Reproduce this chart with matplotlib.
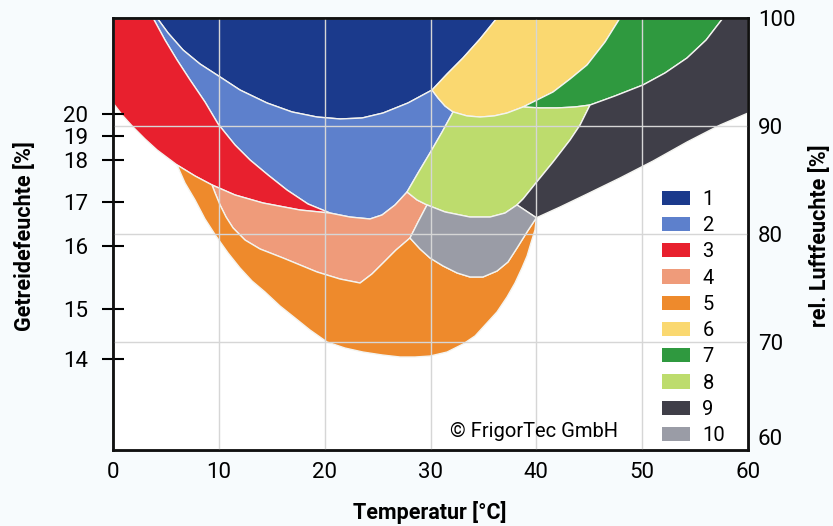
import matplotlib
matplotlib.use('Agg')
import matplotlib.pyplot as plt
from matplotlib.patches import Patch
import numpy as np

plt.rcParams['font.family'] = ['Roboto', 'DejaVu Sans']

# boundary curves, temperature [°C] vs rel. humidity [%]
red_bottom_t = [0.0, 0.94, 1.89, 3.02, 4.16, 6.05, 7.75, 9.35, 11.53, 14.17, 17.67, 20.5]
red_bottom_rh = [92.13, 90.93, 89.91, 88.8, 87.78, 86.39, 85.37, 84.54, 83.61, 82.87, 82.22, 81.94]
red_blue_t = [3.78, 4.91, 6.05, 7.28, 8.69, 9.92, 11.53, 12.95, 14.65, 16.44, 18.42, 20.5]
red_blue_rh = [100, 97.96, 96.11, 94.26, 92.22, 90.19, 88.24, 86.85, 85.46, 84.07, 82.78, 81.94]
blue_bottom_t = [20.5, 22.39, 24.28, 25.42, 26.65, 27.78]
blue_bottom_rh = [81.94, 81.57, 81.39, 81.76, 82.69, 83.89]
lg_left_t = [27.78, 28.82, 29.95, 31.09, 32.13]
lg_left_rh = [83.89, 85.65, 87.5, 89.44, 91.3]
db_bottom_t = [4.16, 5.2, 6.61, 8.22, 9.83, 12.0, 14.55, 16.91, 19.28, 21.45, 23.53, 25.51, 27.87, 30.14]
db_bottom_rh = [100, 98.61, 97.04, 95.74, 94.72, 93.33, 92.13, 91.3, 90.83, 90.65, 90.74, 91.2, 92.13, 93.33]
db_yellow_t = [30.14, 31.56, 33.07, 34.68, 36.28]
db_yellow_rh = [93.33, 94.81, 96.3, 98.06, 100]
blue_yellow_t = [30.14, 30.71, 31.37, 32.13]
blue_yellow_rh = [93.33, 92.59, 91.85, 91.3]
yellow_bottom_t = [32.13, 33.45, 34.68, 36.0, 37.23, 38.74]
yellow_bottom_rh = [91.3, 90.93, 90.83, 90.93, 91.2, 91.76]
yellow_green_t = [38.74, 41.58, 43.18, 44.79, 46.49, 47.91]
yellow_green_rh = [91.76, 93.15, 94.35, 95.65, 97.78, 100]
green_bottom_t = [38.74, 40.35, 41.95, 43.65, 45.07]
green_bottom_rh = [91.76, 91.67, 91.67, 91.76, 91.94]
green_dark_t = [45.07, 47.43, 50.08, 52.16, 54.24, 56.04, 57.64]
green_dark_rh = [91.94, 92.78, 93.8, 94.91, 96.3, 97.96, 100]
dark_bottom_t = [60, 57.36, 54.24, 51.03, 47.91, 44.79, 42.24, 40.0]
dark_bottom_rh = [91.2, 90.09, 88.52, 86.76, 85.19, 83.7, 82.5, 81.5]
lg_dark_t = [38.17, 38.74, 39.88, 41.58, 43.18, 44.13, 45.07]
lg_dark_rh = [82.69, 83.24, 84.63, 86.67, 88.7, 90.09, 91.94]
lg_bottom_t = [27.78, 28.73, 29.67, 31.37, 33.73, 35.62, 37.04, 38.17]
lg_bottom_rh = [83.89, 83.15, 82.69, 82.04, 81.57, 81.57, 81.94, 82.69]
salmon_gray_t = [29.67, 28.82, 28.06]
salmon_gray_rh = [82.69, 81.11, 79.63]
gray_bottom_t = [28.06, 29.01, 29.95, 31.18, 32.51, 33.73, 34.96, 36.28, 37.32, 38.17, 39.12, 40.0]
gray_bottom_rh = [79.63, 78.61, 77.78, 77.04, 76.39, 76.02, 76.02, 76.57, 77.41, 78.7, 80.19, 81.5]
salmon_bottom_t = [9.35, 9.64, 10.11, 10.68, 11.34, 12.47, 13.89, 16.06, 17.67, 19.28, 21.45, 23.34, 24.47, 25.51, 26.74, 28.06]
salmon_bottom_rh = [84.54, 83.8, 82.69, 81.57, 80.56, 79.44, 78.61, 77.78, 77.13, 76.48, 75.83, 75.46, 76.3, 77.31, 78.52, 79.63]
orange_outer_t = [6.05, 6.8, 7.75, 8.69, 9.73, 10.87, 12.0, 13.13, 14.36, 15.78, 17.2, 18.61, 20.22, 21.92,
                  23.62, 25.42, 27.12, 28.54, 29.95, 31.56, 33.07, 34.21, 35.15, 36.28, 37.23, 37.98, 38.64,
                  39.12, 39.49, 39.87, 40.0]
orange_outer_rh = [86.39, 84.72, 83.15, 81.39, 79.81, 78.24, 76.85, 75.65, 74.63, 73.33, 72.22, 71.11, 70.0, 69.44,
                   69.07, 68.8, 68.61, 68.61, 68.7, 69.07, 69.81, 70.56, 71.57, 72.78, 74.17, 75.46, 76.85,
                   77.96, 79.17, 80.37, 81.5]

# grain moisture scale on the left, placed at the matching rel. humidity
grain_rh = [91.1, 89.05, 86.85, 82.95, 78.9, 73.05, 68.45]
grain_labels = ['20', '19', '18', '17', '16', '15', '14']
rh_ticks = [60, 70, 80, 90, 100]
t_ticks = [0, 10, 20, 30, 40, 50, 60]

zone_labels = ['1', '2', '3', '4', '5', '6', '7', '8', '9', '10']
zone_colors = ['#1b3a8c', '#5d80cc', '#e8202e', '#ef9b7a', '#ee8a2c',
               '#fad870', '#2f993f', '#bddc6d', '#3f3e48', '#9a9ca6']


def c(t, rh):
    return np.array(t, float), np.array(rh, float)


def rev(p):
    return p[0][::-1], p[1][::-1]


def sl(p, a, b=None):
    return p[0][a:b], p[1][a:b]


def chain(*parts):
    return np.concatenate([p[0] for p in parts]), np.concatenate([p[1] for p in parts])


red_bottom = c(red_bottom_t, red_bottom_rh)
red_blue = c(red_blue_t, red_blue_rh)
blue_bottom = c(blue_bottom_t, blue_bottom_rh)
lg_left = c(lg_left_t, lg_left_rh)
db_bottom = c(db_bottom_t, db_bottom_rh)
db_yellow = c(db_yellow_t, db_yellow_rh)
blue_yellow = c(blue_yellow_t, blue_yellow_rh)
yellow_bottom = c(yellow_bottom_t, yellow_bottom_rh)
yellow_green = c(yellow_green_t, yellow_green_rh)
green_bottom = c(green_bottom_t, green_bottom_rh)
green_dark = c(green_dark_t, green_dark_rh)
dark_bottom = c(dark_bottom_t, dark_bottom_rh)
lg_dark = c(lg_dark_t, lg_dark_rh)
lg_bottom = c(lg_bottom_t, lg_bottom_rh)
salmon_gray = c(salmon_gray_t, salmon_gray_rh)
gray_bottom = c(gray_bottom_t, gray_bottom_rh)
salmon_bottom = c(salmon_bottom_t, salmon_bottom_rh)
orange_outer = c(orange_outer_t, orange_outer_rh)
top_left = c([0], [100])
top_right = c([60], [100])

# red_bottom: index 5 = tip of zone 5, index 7 = tip of zone 4
zones = [
    chain(db_bottom, db_yellow),
    chain(red_blue, blue_bottom, lg_left, rev(blue_yellow), rev(db_bottom)),
    chain(top_left, red_blue, rev(red_bottom)),
    chain(sl(red_bottom, 7), blue_bottom, sl(lg_bottom, 0, 3), salmon_gray, rev(salmon_bottom)),
    chain(sl(red_bottom, 5, 8), salmon_bottom, gray_bottom, rev(orange_outer)),
    chain(db_yellow, rev(yellow_green), rev(yellow_bottom), rev(blue_yellow)),
    chain(yellow_green, rev(green_dark), rev(green_bottom)),
    chain(lg_left, yellow_bottom, green_bottom, rev(lg_dark), rev(lg_bottom)),
    chain(green_dark, top_right, dark_bottom, lg_dark),
    chain(sl(lg_bottom, 2), rev(gray_bottom), rev(salmon_gray)),
]

fig = plt.figure(figsize=(8.33, 5.26), dpi=100, facecolor='#f7fbfd')
ax = fig.add_axes([0.1357, 0.1445, 0.7623, 0.8213])
ax.set_facecolor('white')
ax.set_xlim(0, 60)
ax.set_ylim(60, 100)

for (t, rh), col in zip(zones, zone_colors):
    ax.fill(t, rh, facecolor=col, edgecolor='#f4f4f0', linewidth=1.0, zorder=1)

ax.set_axisbelow(False)
ax.grid(axis='x', color='#d6d6d6', linewidth=1.0)
ax.set_xticks(t_ticks)
ax.tick_params(axis='x', length=0, pad=9, labelsize=16)
ax.set_yticks(grain_rh)
ax.set_yticklabels(grain_labels)
ax.tick_params(axis='y', direction='inout', length=16, width=1.5, labelsize=16, pad=10)

ax2 = ax.twinx()
ax2.set_ylim(60, 100)
ax2.set_yticks(rh_ticks)
ax2.tick_params(axis='y', length=0, pad=7, labelsize=16)
ax2.get_yticklabels()[0].set_va('bottom')
ax2.grid(axis='y', color='#d6d6d6', linewidth=1.0)
for a in (ax, ax2):
    for s in a.spines.values():
        s.set_linewidth(1.8)
        s.set_color('#111111')

handles = [Patch(facecolor=col, edgecolor='none') for col in zone_colors]
ax2.legend(handles, zone_labels, loc='lower left', bbox_to_anchor=(0.849, -0.012),
           frameon=False, fontsize=14.5, handlelength=1.4, handleheight=0.72,
           labelspacing=0.36, handletextpad=0.6, borderpad=0)

ax2.text(0.531, 0.042, '© FrigorTec GmbH', transform=ax2.transAxes,
         fontsize=14.5, ha='left', va='center')

fig.text(430 / 833, 1 - 512 / 526, 'Temperatur [°C]', fontsize=15.5,
         fontweight='bold', ha='center', va='center')
fig.text(25 / 833, 1 - 236 / 526, 'Getreidefeuchte [%]', fontsize=15.5,
         fontweight='bold', rotation=90, ha='center', va='center')
fig.text(820 / 833, 1 - 236 / 526, 'rel. Luftfeuchte [%]', fontsize=15.5,
         fontweight='bold', rotation=90, ha='center', va='center')

plt.savefig('out.png', dpi=100, facecolor=fig.get_facecolor())
plt.close()
